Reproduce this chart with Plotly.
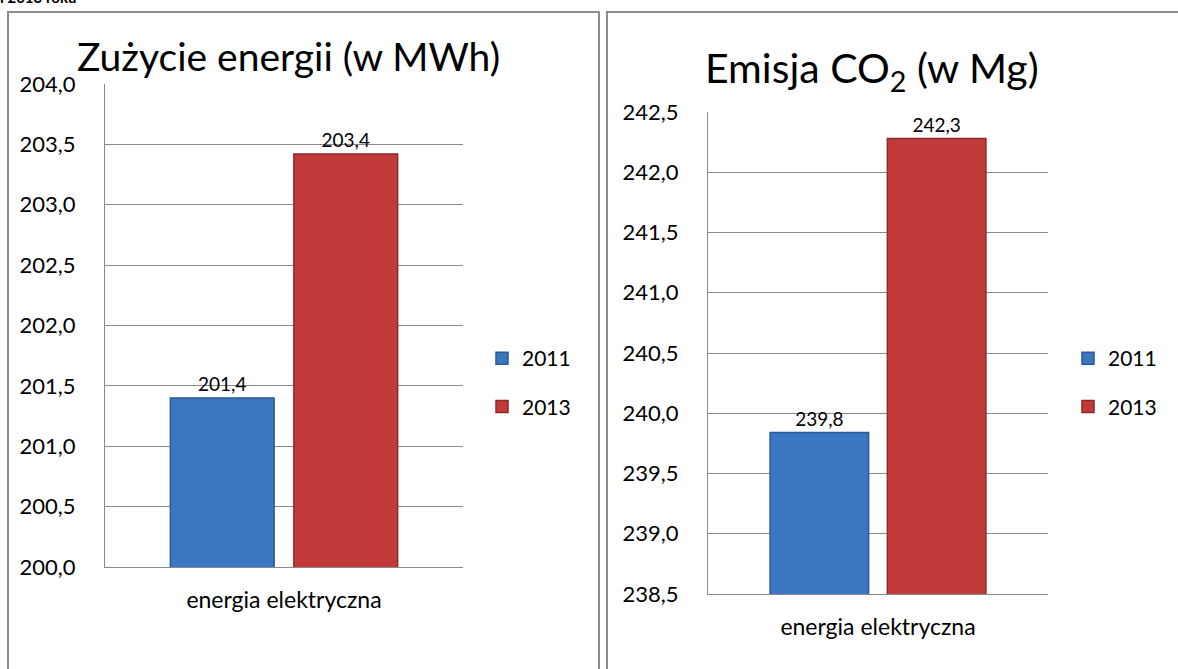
import plotly.graph_objects as go

W, H = 1178, 669

# ---- data ----
categories = ["energia elektryczna"]
series_names = ["2011", "2013"]
energy_2011 = [201.4]
energy_2013 = [203.42]
co2_2011 = [239.84]
co2_2013 = [242.28]

energy_ticks = [200.0, 200.5, 201.0, 201.5, 202.0, 202.5, 203.0, 203.5, 204.0]
co2_ticks = [238.5, 239.0, 239.5, 240.0, 240.5, 241.0, 241.5, 242.0, 242.5]

title_left = "Zużycie energii (w MWh)"
title_right = "Emisja CO<sub>2</sub> (w Mg)"
top_text = "i 2013 roku"

BLUE = "#3B76C2"
BLUE_EDGE = "#2B5A98"
RED = "#C23B3A"
RED_EDGE = "#8E2828"
GRID = "#8A8A8A"
FONT = "Lato"


def px(x):
    return x / W


def py(y):
    return 1 - y / H


def fmt(v):
    return f"{v:.1f}".replace(".", ",")


fig = go.Figure()

for name, vals, col, edge, grp in [
    (series_names[0], energy_2011, BLUE, BLUE_EDGE, "a"),
    (series_names[1], energy_2013, RED, RED_EDGE, "b"),
]:
    fig.add_trace(go.Bar(
        x=categories, y=vals, name=name,
        marker=dict(color=col, line=dict(color=edge, width=1.5)),
        text=[fmt(v) for v in vals], textposition="outside",
        textfont=dict(family=FONT, size=19, color="#000"),
        cliponaxis=False,
        xaxis="x", yaxis="y", legend="legend", legendgroup="L" + grp,
    ))

for name, vals, col, edge, grp in [
    (series_names[0], co2_2011, BLUE, BLUE_EDGE, "a"),
    (series_names[1], co2_2013, RED, RED_EDGE, "b"),
]:
    fig.add_trace(go.Bar(
        x=categories, y=vals, name=name,
        marker=dict(color=col, line=dict(color=edge, width=1.5)),
        text=[fmt(v) for v in vals], textposition="outside",
        textfont=dict(family=FONT, size=19, color="#000"),
        cliponaxis=False,
        xaxis="x2", yaxis="y2", legend="legend2", legendgroup="R" + grp,
    ))

axis_common_y = dict(
    dtick=0.5, tickformat=".1f", showgrid=True, gridcolor=GRID, gridwidth=1,
    showline=True, linecolor=GRID, linewidth=1, zeroline=False,
    tickfont=dict(family=FONT, size=22, color="#000"), ticks="",
    ticklabelstandoff=24, fixedrange=True, automargin=False,
)
axis_common_x = dict(
    showline=True, linecolor=GRID, linewidth=1, showgrid=False,
    tickfont=dict(family=FONT, size=23, color="#000"), ticks="",
    ticklabelstandoff=12, fixedrange=True, automargin=False,
)

legend_common = dict(
    xanchor="left", yanchor="top",
    font=dict(family=FONT, size=21, color="#000"),
    traceorder="grouped", tracegroupgap=18, itemwidth=30,
    bgcolor="rgba(0,0,0,0)",
)

fig.update_layout(
    width=W, height=H,
    margin=dict(l=0, r=0, t=0, b=0, autoexpand=False),
    paper_bgcolor="white", plot_bgcolor="white",
    separators=", ",
    barmode="group", bargap=0.31, bargroupgap=0.16,
    xaxis=dict(domain=[px(105), px(463)], anchor="y", **axis_common_x),
    yaxis=dict(domain=[py(567), py(84)], anchor="x", range=[energy_ticks[0], energy_ticks[-1]],
               tickvals=energy_ticks, **axis_common_y),
    xaxis2=dict(domain=[px(708), px(1048)], anchor="y2", **axis_common_x),
    yaxis2=dict(domain=[py(594), py(112)], anchor="x2", range=[co2_ticks[0], co2_ticks[-1]],
                tickvals=co2_ticks, **axis_common_y),
    legend=dict(x=px(482), y=py(338), **legend_common),
    legend2=dict(x=px(1068), y=py(338), **legend_common),
    showlegend=True,
    shapes=[
        dict(type="rect", xref="paper", yref="paper", x0=px(8), x1=px(599), y0=py(700), y1=py(12),
             line=dict(color="#8C8C8C", width=2), layer="below"),
        dict(type="rect", xref="paper", yref="paper", x0=px(607), x1=px(1190), y0=py(700), y1=py(12),
             line=dict(color="#8C8C8C", width=2), layer="below"),
    ],
    annotations=[
        dict(text=title_left, xref="paper", yref="paper", x=px(288), y=py(56),
             xanchor="center", yanchor="middle", showarrow=False,
             font=dict(family=FONT, size=39, color="#000")),
        dict(text=title_right, xref="paper", yref="paper", x=px(872), y=py(70),
             xanchor="center", yanchor="middle", showarrow=False,
             font=dict(family=FONT, size=41, color="#000")),
        dict(text="<b>" + top_text + "</b>", xref="paper", yref="paper", x=px(-2), y=py(8),
             xanchor="left", yanchor="bottom", showarrow=False,
             font=dict(family=FONT, size=15, color="#000")),
    ],
)

fig.write_html(
    "out.html",
    config={"displayModeBar": False},
    post_script="document.body.style.margin='0';document.body.style.overflow='hidden';",
)
